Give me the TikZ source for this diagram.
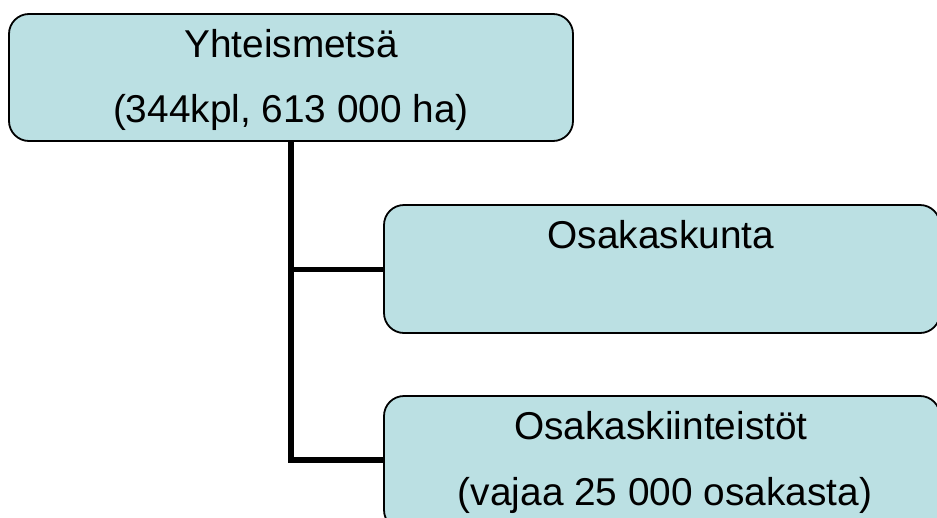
\documentclass[tikz,border=0pt]{standalone}
\usepackage{fontspec}
\setmainfont{Liberation Sans}
\definecolor{boxfill}{RGB}{187,224,227}
\begin{document}
\begin{tikzpicture}[x=1pt,y=-1pt,
  orgbox/.style={draw=black,line width=1.8pt,fill=boxfill,rounded corners=20pt,inner sep=0pt},
  conn/.style={draw=black,line width=5.6pt},
  lbl/.style={inner sep=0pt,anchor=base,font=\fontsize{38.8}{46}\selectfont}]
\clip (0,0) rectangle (937,517);
\node[orgbox,minimum width=564pt,minimum height=127pt] (top) at (291,77.5) {};
\node[orgbox,minimum width=556pt,minimum height=128pt] (mid) at (662,269) {};
\node[orgbox,minimum width=556pt,minimum height=134pt] (bot) at (662,463) {};
\coordinate (j1) at (291,269.5);
\coordinate (j2) at (291,460);
\draw[conn] (top.south -| j2) -- (j2) -- (j2 -| bot.west);
\draw[conn] (j1) -- (j1 -| mid.west);
\node[lbl] (t1) at (291,57) {Yhteismetsä};
\node[lbl] (t2) at (291,122) {(344kpl, 613 000 ha)};
\node[lbl] (m1) at (661,248) {Osakaskunta};
\node[lbl] (b1) at (661,439) {Osakaskiinteistöt};
\node[lbl] (b2) at (665,505) {(vajaa 25 000 osakasta)};
\end{tikzpicture}
\end{document}
